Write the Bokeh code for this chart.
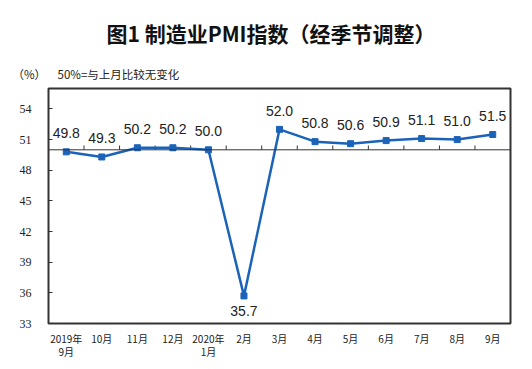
from bokeh.plotting import figure
from bokeh.models import (Range1d, FixedTicker, Span, LabelSet, ColumnDataSource, Title)
from bokeh.core.properties import value
from bokeh.embed import file_html
from bokeh.resources import INLINE

# ---- data ----
months = ["2019年\n9月", "10月", "11月", "12月", "2020年\n1月", "2月", "3月",
          "4月", "5月", "6月", "7月", "8月", "9月"]
pmi = [49.8, 49.3, 50.2, 50.2, 50.0, 35.7, 52.0, 50.8, 50.6, 50.9, 51.1, 51.0, 51.5]
y_ticks = [33, 36, 39, 42, 45, 48, 51, 54]
baseline = 50
title_text = "图1 制造业PMI指数（经季节调整）"
unit_text = "（%）"
note_text = "50%=与上月比较无变化"

LINE = "#1a63b8"
DARK = "#333333"
YMIN, YMAX = 33, 56

n = len(pmi)
xs = [i + 0.5 for i in range(n)]

p = figure(width=532, height=369, output_backend="svg", toolbar_location=None,
           x_range=Range1d(0, n), y_range=Range1d(YMIN, YMAX),
           min_border_left=48, min_border_right=22, min_border_top=88,
           min_border_bottom=46)
p.outline_line_color = DARK
p.outline_line_width = 2
p.xgrid.visible = False
p.ygrid.visible = False
p.background_fill_color = "white"
p.border_fill_color = "white"

# y axis
p.yaxis.ticker = FixedTicker(ticks=y_ticks)
p.yaxis.axis_line_color = DARK
p.yaxis.major_tick_in = 4
p.yaxis.major_tick_out = 0
p.yaxis.major_tick_line_color = DARK
p.yaxis.minor_tick_line_color = None
p.yaxis.major_label_text_font = "Liberation Serif"
p.yaxis.major_label_text_font_size = "12px"
p.yaxis.major_label_text_color = "#222222"
p.yaxis.major_label_standoff = 17

# x axis
p.xaxis.ticker = FixedTicker(ticks=xs)
p.xaxis.major_label_overrides = {x: m for x, m in zip(xs, months)}
p.xaxis.axis_line_color = DARK
p.xaxis.major_tick_line_color = None
p.xaxis.minor_tick_line_color = None
p.xaxis.major_label_text_font = "Noto Sans CJK SC"
p.xaxis.major_label_text_font_size = "10px"
p.xaxis.major_label_text_line_height = 0.9
p.xaxis.major_label_text_color = "#222222"
p.xaxis.major_label_standoff = 1

# 50 line with upward ticks between categories
p.add_layout(Span(location=baseline, dimension="width", line_color=DARK, line_width=1))
bx = list(range(1, n))
p.segment(x0=bx, x1=bx, y0=[baseline] * len(bx), y1=[baseline + 0.42] * len(bx),
          line_color=DARK, line_width=1)

# series
src = ColumnDataSource(dict(x=xs, y=pmi, lbl=[f"{v:.1f}" for v in pmi],
                            off=[-15 if v < 40 else 18.5 for v in pmi]))
p.line("x", "y", source=src, line_color=LINE, line_width=2.5)
p.scatter("x", "y", source=src, marker="square", size=6, fill_color=LINE, line_color=LINE)
p.add_layout(LabelSet(x="x", y="y", text="lbl", source=src, y_offset="off",
                      text_align="center", text_baseline="middle",
                      text_font=value("Liberation Sans"), text_font_size="14px",
                      text_color="#222222"))

# main title (top row)
p.title.text = title_text
p.title.align = "left"
p.title.offset = 58
p.title.standoff = 18
p.title.text_font = "Noto Sans CJK SC"
p.title.text_font_size = "21px"
p.title.text_font_style = "bold"
p.title.text_color = "#111111"

# note row (closest to frame)
p.add_layout(Title(text=unit_text + "\u2002\u2002" + note_text, align="left",
                   offset=-36, standoff=14,
                   text_font="Noto Sans CJK SC", text_font_style="normal",
                   text_font_size="11.5px", text_color="#222222"), "above")

open("out.html", "w").write(file_html(p, INLINE))
